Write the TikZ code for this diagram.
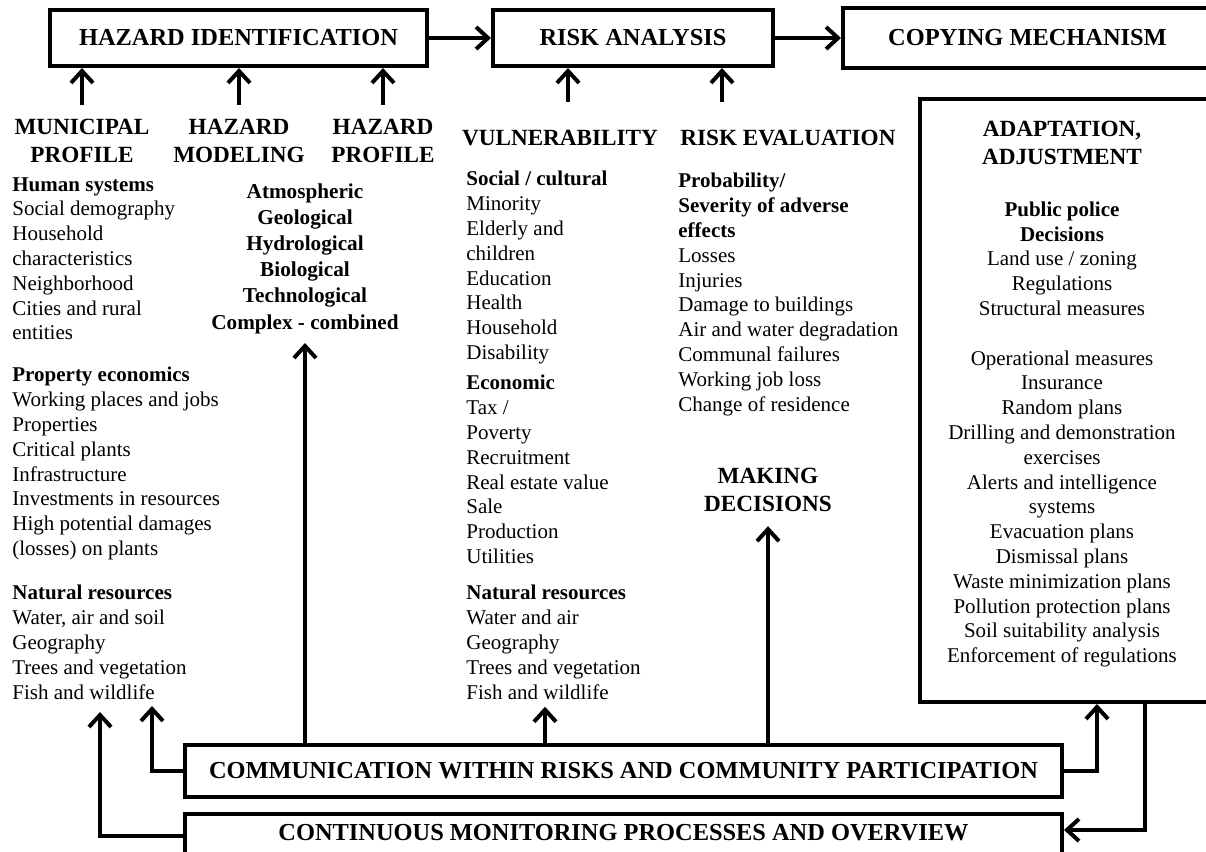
\documentclass[tikz,border=0pt]{standalone}
\usepackage{fontspec}
\setmainfont{Liberation Serif}
\usetikzlibrary{arrows.meta,positioning,calc}

\begin{document}
\begin{tikzpicture}[x=0.5pt,y=-0.5pt,
	>={Straight Barb[length=6pt,width=11pt]},
	arr/.style={->,line width=2pt},
	stage/.style={draw,line width=2pt,font=\fontsize{12.2}{14}\selectfont\bfseries,inner sep=0pt},
	head/.style={font=\fontsize{11.6}{14}\selectfont\bfseries,align=center,inner sep=1pt},
	items/.style={font=\fontsize{10.5}{12.4}\selectfont,align=left,anchor=north west,inner sep=0pt}]
	\useasboundingbox (0,0) rectangle (1206,852);

	% main chain
	\node[stage,minimum width=188.5pt,minimum height=28pt] (hazid)  at (238.5,38) {HAZARD IDENTIFICATION};
	\node[stage,minimum width=140pt  ,minimum height=28pt] (riskan) at (633,38)   {RISK ANALYSIS};
	\node[stage,minimum width=184.5pt,minimum height=30pt] (copy)   at (1027.5,38) {COPYING MECHANISM};
	\draw[arr] (hazid)  -- (riskan);
	\draw[arr] (riskan) -- (copy);

	% hazard identification inputs
	\node[head] (munic) at (82,141)  {MUNICIPAL\\PROFILE};
	\node[head] (hmod)  at (239,141) {HAZARD\\MODELING};
	\node[head] (hprof) at (383,141) {HAZARD\\PROFILE};
	\draw[arr] ([yshift=6pt]munic.north) -- (munic.north |- hazid.south);
	\draw[arr] ([yshift=6pt]hmod.north)  -- (hmod.north  |- hazid.south);
	\draw[arr] ([yshift=6pt]hprof.north) -- (hprof.north |- hazid.south);

	\node[items] (hum)  at (12,177) {\textbf{Human systems}\\Social demography\\Household\\characteristics\\Neighborhood\\Cities and rural\\entities};
	\node[items] (prop) at (12,367) {\textbf{Property economics}\\Working places and jobs\\Properties\\Critical plants\\Infrastructure\\Investments in resources\\High potential damages\\(losses) on plants};
	\node[items] (hnat) at (12,585) {\textbf{Natural resources}\\Water, air and soil\\Geography\\Trees and vegetation\\Fish and wildlife};
	\node[items,anchor=north,align=center,font=\fontsize{10.6}{13.1}\selectfont\bfseries] (hazlist) at (305,183)
		{Atmospheric\\Geological\\Hydrological\\Biological\\Technological\\Complex - combined};

	% risk analysis inputs
	\node[head] (vuln) at (560,138) {VULNERABILITY};
	\node[head] (reval) at (788,138) {RISK EVALUATION};
	\coordinate (vuln-a)  at (568,102);
	\coordinate (reval-a) at (722,102);
	\draw[arr] (vuln-a)  -- (vuln-a  |- riskan.south);
	\draw[arr] (reval-a) -- (reval-a |- riskan.south);

	\node[items] (vsoc) at (466,171) {\textbf{Social / cultural}\\Minority\\Elderly and\\children\\Education\\Health\\Household\\Disability};
	\node[items] (veco) at (466,375) {\textbf{Economic}\\Tax /\\Poverty\\Recruitment\\Real estate value\\Sale\\Production\\Utilities};
	\node[items] (vnat) at (466,585) {\textbf{Natural resources}\\Water and air\\Geography\\Trees and vegetation\\Fish and wildlife};
	\node[items] (rlist) at (678,173) {\textbf{Probability/}\\\textbf{Severity of adverse}\\\textbf{effects}\\Losses\\Injuries\\Damage to buildings\\Air and water degradation\\Communal failures\\Working job loss\\Change of residence};

	\node[head] (decide) at (768,490) {MAKING\\DECISIONS};

	% adaptation
	\node[draw,line width=2pt,anchor=north west,minimum width=146pt,minimum height=301.5pt] (adapt) at (918,97) {};
	\node[head,anchor=north] (adhead) at ([yshift=-11pt]adapt.north -| 1062,0) {ADAPTATION,\\ADJUSTMENT};
	\node[items,anchor=north,align=center,below=17pt of adhead] (adpol)
		{\textbf{Public police}\\\textbf{Decisions}\\Land use / zoning\\Regulations\\Structural measures};
	\node[items,anchor=north,align=center,below=17pt of adpol] (adops)
		{Operational measures\\Insurance\\Random plans\\Drilling and demonstration\\exercises\\Alerts and intelligence\\systems\\Evacuation plans\\Dismissal plans\\Waste minimization plans\\Pollution protection plans\\Soil suitability analysis\\Enforcement of regulations};

	% communication and monitoring
	\node[stage,minimum width=438.5pt,minimum height=26pt] (comm) at (623.5,771) {COMMUNICATION WITHIN RISKS AND COMMUNITY PARTICIPATION};
	\node[stage,minimum width=438.5pt,minimum height=24pt,text depth=6pt,below=6.5pt of comm] (mon) {CONTINUOUS MONITORING PROCESSES AND OVERVIEW};

	\coordinate (hn-a) at (152,706);
	\coordinate (hn-b) at (100,712);
	\draw[arr] (comm.west) -| (hn-a);
	\draw[arr] ([yshift=1pt]mon.west) -| (hn-b);
	\draw[arr,shorten >=4.5pt] (hazlist.south |- comm.north) -- (hazlist.south);
	\draw[arr,shorten >=3.5pt] (545,0 |- comm.north) -- (545,0 |- vnat.south);
	\draw[arr,shorten >=6pt] (decide.south |- comm.north) -- (decide.south);
	\draw[arr] (comm.east) -| (1097,0 |- adapt.south);
	\draw[arr] (1145,0 |- adapt.south) |- ([yshift=4pt]mon.east);
\end{tikzpicture}
\end{document}
